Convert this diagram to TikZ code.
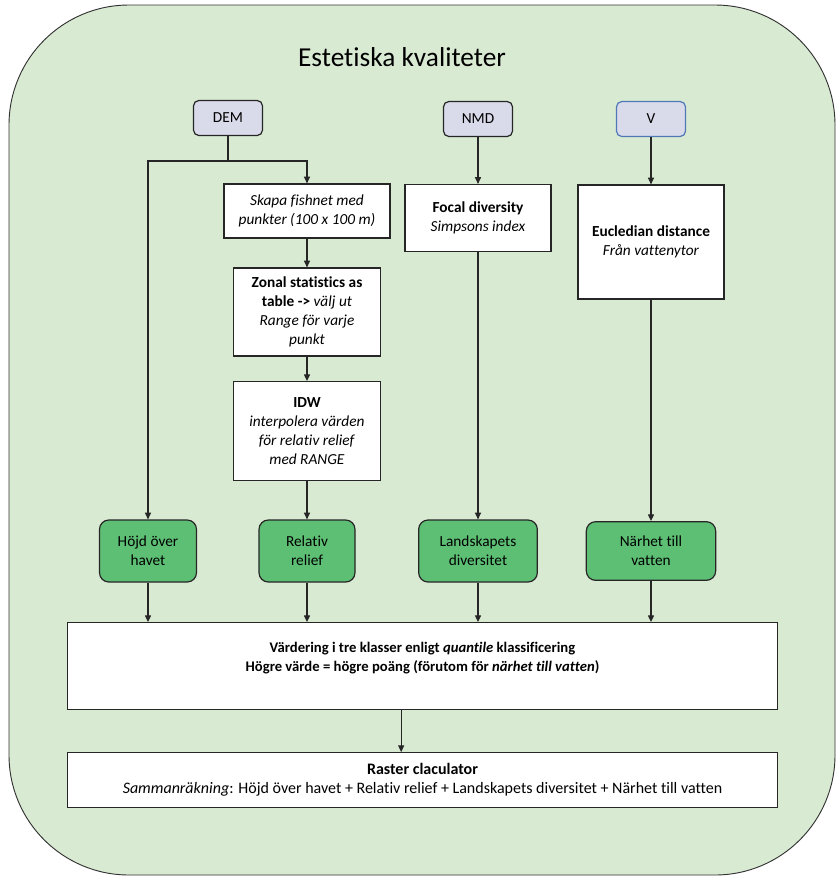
\documentclass[tikz,border=0pt]{standalone}
\usepackage{fontspec}
\setmainfont[Ligatures=NoCommon]{Carlito}
\usepackage{xcolor}
\usepackage{tikz}
\usetikzlibrary{arrows.meta, positioning}

\definecolor{bggreen}{HTML}{D9EAD3}
\definecolor{srcfill}{HTML}{D9DAEA}
\definecolor{resgreen}{HTML}{5DBF74}
\definecolor{vblue}{HTML}{5078B6}

\tikzset{
    txt/.style={font=\fontsize{11.5pt}{14.3pt}\selectfont, align=center, inner sep=2pt},
    src/.style={txt, draw=black!85, fill=srcfill, line width=0.9pt, rounded corners=4pt,
        minimum width=51.75pt, minimum height=26.25pt},
    proc/.style={txt, draw=black!85, fill=white, line width=0.9pt},
    res/.style={txt, draw=black!85, fill=resgreen, line width=0.9pt, rounded corners=7pt,
        minimum height=46.5pt},
    arr/.style={-{Triangle[length=5pt, width=4.5pt]}, line width=0.8pt, black!85},
    lin/.style={line width=0.8pt, black!85}
}

\begin{document}
\begin{tikzpicture}[x=0.75pt, y=-0.75pt]
    \useasboundingbox (0,0) rectangle (836,876);
    % background panel
    \draw[fill=bggreen, draw=black!80, line width=0.7pt, rounded corners=90pt] (9,5) rectangle (835,875);
    \node[font=\fontsize{20.5pt}{24pt}\selectfont] (title) at (402,57) {Estetiska kvaliteter};

    % input data
    \node[src] (dem) at (228,118) {DEM};
    \node[src] (nmd) at (478,119) {NMD};
    \node[src, draw=vblue] (v) at (651,119) {V};

    % processing steps
    \node[proc, minimum width=124.5pt, minimum height=40.5pt] (fish) at (307,211)
        {\textit{Skapa fishnet med}\\\textit{punkter (100 x 100 m)}};
    \node[proc, minimum width=110pt, minimum height=66pt] (zonal) at (307,312)
        {\textbf{Zonal statistics as}\\\textbf{table ->} \textit{välj ut}\\\textit{Range för varje}\\\textit{punkt}};
    \node[proc, minimum width=110pt, minimum height=74pt] (idw) at (307,431)
        {\textbf{IDW}\\\textit{interpolera värden}\\\textit{för relativ relief}\\\textit{med RANGE}};
    \node[proc, minimum width=109.5pt, minimum height=50.25pt] (focal) at (478,218)
        {\textbf{Focal diversity}\\\textit{Simpsons index}};
    \node[proc, minimum width=109.5pt, minimum height=85.5pt] (eucl) at (651,242)
        {\textbf{Eucledian distance}\\\textit{Från vattenytor}};

    % results
    \node[res, minimum width=72.75pt] (hojd) at (148,551) {Höjd över\\havet};
    \node[res, minimum width=72pt] (relief) at (307,551) {Relativ\\relief};
    \node[res, minimum width=89pt] (landsk) at (478,551) {Landskapets\\diversitet};
    \node[res, minimum width=97pt, minimum height=44pt] (narhet) at (651,551) {Närhet till\\vatten};

    \node[proc, font=\fontsize{11pt}{14.3pt}\selectfont, minimum width=533pt, minimum height=65pt] (vard) at (422.5,666)
        {\textbf{Värdering i tre klasser enligt \textit{quantile} klassificering}\\
         \textbf{Högre värde = högre poäng (förutom för \textit{närhet till vatten})}\\ ~};
    \node[proc, font=\fontsize{12pt}{14.5pt}\selectfont, minimum width=533pt, minimum height=41pt] (raster) at (422.5,780)
        {\textbf{Raster claculator}\\\textit{Sammanräkning}: Höjd över havet + Relativ relief + Landskapets diversitet + Närhet till vatten};

    % connectors
    \coordinate (split) at (228,161);
    \draw[lin] (dem) -- (split);
    \draw[arr] (split) -| (hojd);
    \draw[arr] (split) -| (fish);
    \draw[arr] (fish) -- (zonal);
    \draw[arr] (zonal) -- (idw);
    \draw[arr] (idw) -- (relief);
    \draw[arr] (nmd) -- (focal);
    \draw[arr] (focal) -- (landsk);
    \draw[arr] (v) -- (eucl);
    \draw[arr] (eucl) -- (narhet);
    \foreach \r in {hojd, relief, landsk, narhet}
        \draw[arr] (\r.south) -- (\r.south |- vard.north);
    \draw[arr] ([xshift=-16pt]vard.south) -- ([xshift=-16pt]raster.north);
\end{tikzpicture}
\end{document}
